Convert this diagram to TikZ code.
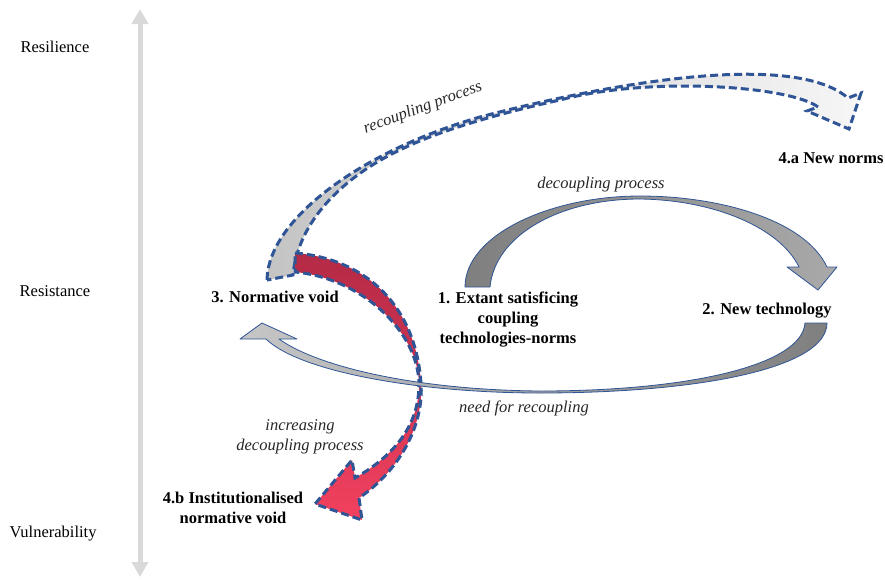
\documentclass[tikz,border=0pt]{standalone}
\usepackage{fontspec}
\setmainfont{Liberation Serif}
\usetikzlibrary{arrows.meta}

\definecolor{outline}{HTML}{2F5597}
\definecolor{axisgray}{HTML}{D9D9D9}
\definecolor{decD}{HTML}{7F7F7F}
\definecolor{decL}{HTML}{A9A9A9}
\definecolor{needD}{HTML}{7F7F7F}
\definecolor{needL}{HTML}{C6C6C6}
\definecolor{recL}{HTML}{C4C4C4}
\definecolor{recR}{HTML}{F6F6F6}
\definecolor{redD}{HTML}{B42A46}
\definecolor{redL}{HTML}{F2415F}

\tikzstyle{level} = [font=\fontsize{16.5}{20}\selectfont, align=center, inner sep=0pt]
\tikzstyle{state} = [font=\fontsize{16.5}{20}\selectfont\bfseries, align=center, inner sep=0pt]
\tikzstyle{process} = [font=\fontsize{16.5}{20}\selectfont\itshape, text=black!85, align=center, inner sep=0pt]
\tikzstyle{plainarrow} = [draw=outline, line width=0.8pt, line join=round]
\tikzstyle{dasharrow} = [draw=outline, line width=3pt, dash pattern=on 8pt off 4pt, line join=miter]
\tikzstyle{axis} = [axisgray, line width=5pt, {Triangle[width=16pt,length=15pt]}-{Triangle[width=16pt,length=15pt]}]

\begin{document}
\begin{tikzpicture}[x=1pt, y=-1pt]
      \useasboundingbox (0,0) rectangle (885,579);

      % vertical scale
      \coordinate (top) at (140,9);
      \coordinate (bottom) at (140,577);
      \draw [axis] (top) -- (bottom);
      \node (res) [level] at (55,47) {Resilience};
      \node (rst) [level] at (55,291) {Resistance};
      \node (vul) [level] at (53,534) {Vulnerability};

      % recoupling arrow
      \path [dasharrow, left color=recL, right color=recR]
        (267,280) .. controls (268,218) and (365,150) .. (480,117)
        .. controls (590,88) and (790,48) .. (848,98)
        -- (861,93) -- (849,129) -- (807,111) -- (818,107)
        .. controls (790,86) and (650,76) .. (560,100)
        .. controls (510,111) and (445,128) .. (402,149)
        .. controls (342,177) and (298,222) .. (293,275)
        -- cycle;

      % increasing decoupling arrow
      \path [dasharrow, top color=redD, bottom color=redL]
        (295,253) .. controls (360,258) and (415,300) .. (421,383)
        .. controls (424,425) and (400,470) .. (359,498)
        -- (362,520) -- (315,504) -- (352,460) -- (355,478)
        .. controls (395,455) and (419,425) .. (419,384)
        .. controls (418,330) and (360,278) .. (295,272)
        -- cycle;

      % decoupling arrow
      \path [plainarrow, left color=decD, right color=decL]
        (465,287) .. controls (465,235) and (550,196) .. (640,196)
        .. controls (720,196) and (805,220) .. (827,267)
        -- (837,267) -- (818,290) -- (787,267) -- (799,267)
        .. controls (780,228) and (715,200) .. (640,199)
        .. controls (560,199) and (495,235) .. (490,287)
        -- cycle;

      % need for recoupling arrow
      \path [plainarrow, left color=needL, right color=needD]
        (827,323) .. controls (827,368) and (700,393) .. (540,393)
        .. controls (420,393) and (300,372) .. (266,339)
        -- (240,339) -- (262,323) -- (297,339) -- (279,339)
        .. controls (320,368) and (420,390) .. (540,391)
        .. controls (690,391) and (802,365) .. (805,323)
        -- cycle;

      % states
      \node (norms) [state] at (831,158) {4.a New norms};
      \node (void) [state] at (275,297) {3. Normative void};
      \node (extant) [state] at (508,320) {1. Extant satisficing\\coupling\\technologies-norms};
      \node (newtech) [state] at (767,311) {2. New technology};
      \node (inst) [state] at (233,508) {4.b Institutionalised\\normative void};

      % processes
      \node (recp) [process, rotate=20] at (423,108) {recoupling process};
      \node (decp) [process] at (601,185) {decoupling process};
      \node (need) [process] at (524,408) {need for recoupling};
      \node (incr) [process] at (300,437) {increasing\\decoupling process};
\end{tikzpicture}
\end{document}
